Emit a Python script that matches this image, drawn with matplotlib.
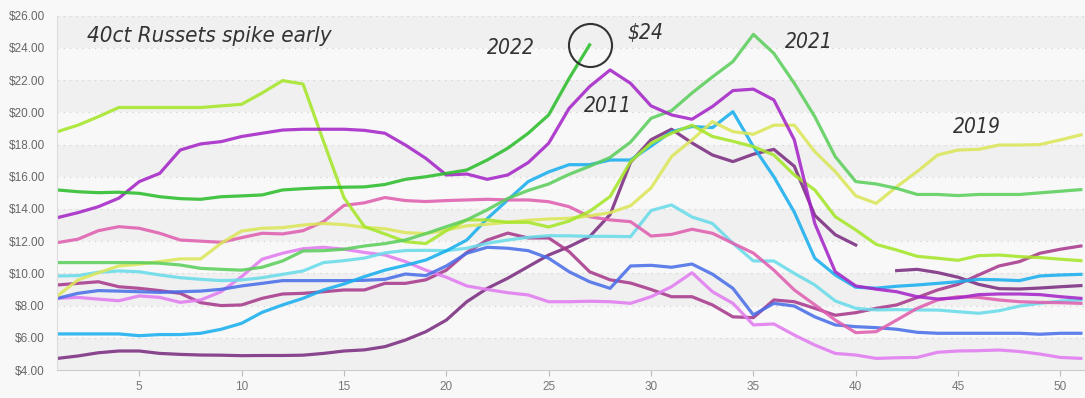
import numpy as np
import matplotlib
matplotlib.use("Agg")
import matplotlib.pyplot as plt

nan = np.nan
weeks = list(range(1, 52))

s2022 = [15.18, 15.07, 15.01, 15.04, 14.97, 14.76, 14.64, 14.60, 14.76, 14.81,
         14.87, 15.18, 15.26, 15.32, 15.35, 15.37, 15.52, 15.84, 16.00, 16.21,
         16.42, 17.04, 17.77, 18.70, 19.84, 22.11, 24.19] + [nan] * 24

lime = [18.8, 19.2, 19.73, 20.3, 20.3, 20.3, 20.3, 20.3, 20.4, 20.5,
        21.2, 21.97, 21.76, 18.2, 14.7, 12.9, 12.45, 11.97, 11.85, 12.65,
        13.32, 13.32, 13.17, 13.17, 12.88, 13.25, 13.85, 14.77, 16.94, 18.08,
        18.7, 19.2, 18.5, 18.2, 17.87, 17.35, 16.11, 15.18, 13.52, 12.7,
        11.8, 11.45, 11.06, 10.94, 10.81, 11.1, 11.14, 11.04, 10.98, 10.88, 10.79]

s2011 = [13.46, 13.77, 14.14, 14.67, 15.7, 16.21, 17.66, 18.04, 18.18, 18.5,
         18.7, 18.9, 18.95, 18.95, 18.95, 18.88, 18.7, 17.97, 17.14, 16.11,
         16.17, 15.84, 16.11, 16.88, 18.08, 20.25, 21.6, 22.63, 21.8, 20.4,
         19.84, 19.57, 20.36, 21.35, 21.44, 20.77, 18.29, 13.1, 10.1, 9.22,
         9.02, 8.86, 8.55, 8.41, 8.48, 8.68, 8.72, 8.72, 8.68, 8.55, 8.45]

pink = [11.91, 12.12, 12.65, 12.9, 12.8, 12.49, 12.07, 12.0, 11.93, 12.22,
        12.49, 12.45, 12.65, 13.21, 14.22, 14.38, 14.71, 14.52, 14.46, 14.52,
        14.56, 14.6, 14.56, 14.56, 14.45, 14.14, 13.52, 13.32, 13.21, 12.32,
        12.42, 12.74, 12.49, 11.87, 11.26, 10.2, 8.97, 8.05, 7.1, 6.32,
        6.38, 7.1, 7.83, 8.35, 8.55, 8.51, 8.35, 8.24, 8.2, 8.18, 8.14]

magenta = [9.28, 9.38, 9.48, 9.17, 9.07, 8.93, 8.76, 8.18, 8.0, 8.04,
           8.45, 8.72, 8.76, 8.86, 8.97, 8.97, 9.38, 9.38, 9.6, 10.2,
           11.3, 12.07, 12.5, 12.2, 12.2, 11.35, 10.1, 9.6, 9.4, 9.0,
           8.55, 8.55, 8.04, 7.3, 7.25, 8.35, 8.24, 7.83, 7.4, 7.56,
           7.83, 8.04, 8.5, 8.97, 9.32, 9.9, 10.46, 10.73, 11.25, 11.5, 11.7]

plum = [4.72, 4.87, 5.07, 5.18, 5.18, 5.03, 4.97, 4.93, 4.92, 4.89,
        4.9, 4.9, 4.92, 5.03, 5.18, 5.25, 5.45, 5.86, 6.38, 7.1,
        8.24, 9.07, 9.7, 10.42, 11.14, 11.66, 12.28, 13.65, 16.9, 18.3,
        18.95, 18.1, 17.35, 16.94, 17.4, 17.7, 16.65, 13.6, 12.4, 11.76,
        nan, 10.17, 10.25, 10.05, 9.76, 9.32, 9.05, 9.03, 9.09, 9.17, 9.24]

cyan = [9.84, 9.86, 10.07, 10.15, 10.1, 9.9, 9.73, 9.63, 9.55, 9.59,
        9.73, 9.94, 10.15, 10.67, 10.79, 10.95, 11.27, 11.42, 11.43, 11.41,
        11.56, 11.87, 12.07, 12.24, 12.34, 12.33, 12.3, 12.3, 12.28, 13.9,
        14.25, 13.5, 13.1, 11.87, 10.77, 10.77, 10.0, 9.28, 8.29, 7.83,
        7.73, 7.75, 7.73, 7.72, 7.62, 7.52, 7.68, 7.97, 8.14, 8.28, 8.35]

blue = [8.45, 8.76, 8.93, 8.9, 8.86, 8.82, 8.86, 8.9, 9.01, 9.22,
        9.38, 9.55, 9.55, 9.55, 9.55, 9.57, 9.63, 9.96, 9.86, 10.46,
        11.25, 11.62, 11.56, 11.41, 10.94, 10.1, 9.48, 9.07, 10.46, 10.5,
        10.38, 10.58, 9.95, 9.07, 7.42, 8.14, 7.97, 7.3, 6.8, 6.69,
        6.63, 6.53, 6.34, 6.28, 6.28, 6.28, 6.28, 6.28, 6.22, 6.28, 6.28]

sky = [6.24, 6.24, 6.24, 6.24, 6.13, 6.2, 6.2, 6.28, 6.53, 6.9,
       7.58, 8.04, 8.45, 8.97, 9.34, 9.8, 10.2, 10.5, 10.83, 11.4,
       12.07, 13.4, 14.56, 15.7, 16.3, 16.75, 16.75, 17.04, 17.04, 17.9,
       18.8, 19.12, 19.05, 20.04, 17.87, 16.0, 13.8, 10.94, 9.9, 9.14,
       9.08, 9.2, 9.28, 9.38, 9.48, 9.63, 9.6, 9.55, 9.84, 9.9, 9.94]

lilac = [8.45, 8.51, 8.4, 8.3, 8.6, 8.51, 8.2, 8.35, 8.86, 9.8,
         10.88, 11.25, 11.53, 11.62, 11.5, 11.3, 11.14, 10.73, 10.2, 9.76,
         9.22, 9.0, 8.8, 8.66, 8.24, 8.24, 8.27, 8.24, 8.14, 8.55,
         9.17, 10.04, 8.86, 8.14, 6.8, 6.86, 6.17, 5.55, 5.03, 4.93,
         4.72, 4.76, 4.78, 5.1, 5.18, 5.2, 5.24, 5.15, 4.99, 4.78, 4.72]

s2021 = [10.67, 10.67, 10.67, 10.67, 10.67, 10.63, 10.52, 10.31, 10.25, 10.2,
         10.38, 10.77, 11.39, 11.41, 11.5, 11.7, 11.85, 12.07, 12.47, 12.9,
         13.32, 13.95, 14.65, 15.15, 15.55, 16.15, 16.65, 17.2, 18.15, 19.63,
         20.1, 21.2, 22.2, 23.15, 24.84, 23.66, 21.8, 19.73, 17.25, 15.7,
         15.55, 15.28, 14.9, 14.9, 14.83, 14.9, 14.9, 14.9, 15.0, 15.1, 15.2]

s2019 = [8.6, 9.59, 10.04, 10.46, 10.57, 10.73, 10.9, 10.9, 11.87, 12.63,
         12.8, 12.84, 13.0, 13.1, 13.03, 12.86, 12.77, 12.53, 12.47, 12.7,
         12.95, 13.05, 13.18, 13.3, 13.38, 13.42, 13.57, 13.77, 14.2, 15.3,
         17.25, 18.29, 19.42, 18.8, 18.64, 19.2, 19.2, 17.56, 16.32, 14.81,
         14.35, 15.38, 16.32, 17.35, 17.66, 17.7, 17.97, 17.97, 18.0, 18.29, 18.6]

series = [
    (plum, "#7b2d80"),
    (magenta, "#a83a8c"),
    (lilac, "#e27cf0"),
    (blue, "#4a6ee8"),
    (cyan, "#6adcea"),
    (sky, "#1aaeee"),
    (pink, "#e060b0"),
    (s2019, "#dbe65a"),
    (lime, "#a6e62a"),
    (s2021, "#5cce5c"),
    (s2011, "#a526c8"),
    (s2022, "#2cbd2c"),
]

yticks = list(range(4, 27, 2))
xticks = [5, 10, 15, 20, 25, 30, 35, 40, 45, 50]

W, H = 1085, 398
fig = plt.figure(figsize=(W / 100, H / 100), dpi=100, facecolor="#f8f8f8")
left = 57.4 / W
bottom = 1 - 370 / H
top = 1 - 15.7 / H
ax = fig.add_axes([left, bottom, 1 - left, top - bottom])
ax.set_facecolor("#f8f8f8")
ax.set_xlim(1, 1 + (W - 57.4) / 20.47)
ax.set_ylim(4, 26)

for lo in range(4, 26, 4):
    ax.axhspan(lo, lo + 2, color="#f0f0f0", zorder=0, lw=0)
for y in yticks[1:]:
    ax.axhline(y, color="#d4d4d4", lw=0.9, ls=(0, (1, 4)), zorder=0.5)

for vals, col in series:
    ax.plot(weeks, vals, color=col, lw=2.3, alpha=0.88, solid_joinstyle="round", zorder=2)

# circle at 2022 endpoint
last = max(i for i, v in enumerate(s2022) if not np.isnan(v))
ax.plot(weeks[last], s2022[last], marker="o", ms=31, mfc="none", mec="#333333", mew=1.5, zorder=3)

ax.set_yticks(yticks)
ax.set_yticklabels([f"${v:.2f}" for v in yticks])
ax.set_xticks(xticks)
ax.tick_params(axis="y", length=0, pad=9, labelsize=8.5, labelcolor="#666666")
ax.tick_params(axis="x", length=4, color="#bbbbbb", pad=4, labelsize=8.5, labelcolor="#777777")
for lab in ax.get_xticklabels() + ax.get_yticklabels():
    lab.set_family("Liberation Sans")
for side in ["top", "right"]:
    ax.spines[side].set_visible(False)
ax.spines["left"].set_color("#dddddd")
ax.spines["bottom"].set_color("#cccccc")

hand = dict(family="DejaVu Sans", style="oblique", stretch="condensed", color="#333333")
ax.text(2.45, 24.75, "40ct Russets spike early", fontsize=16, ha="left", va="center", **hand)
ax.text(23.16, 24.0, "2022", fontsize=15, ha="center", va="center", **hand)
ax.text(29.7, 24.93, "$24", fontsize=15, ha="center", va="center", **hand)
ax.text(27.9, 20.4, "2011", fontsize=15, ha="center", va="center", **hand)
ax.text(37.7, 24.34, "2021", fontsize=15, ha="center", va="center", **hand)
ax.text(45.9, 19.1, "2019", fontsize=15, ha="center", va="center", **hand)

fig.savefig("out.png", dpi=100, facecolor=fig.get_facecolor())
